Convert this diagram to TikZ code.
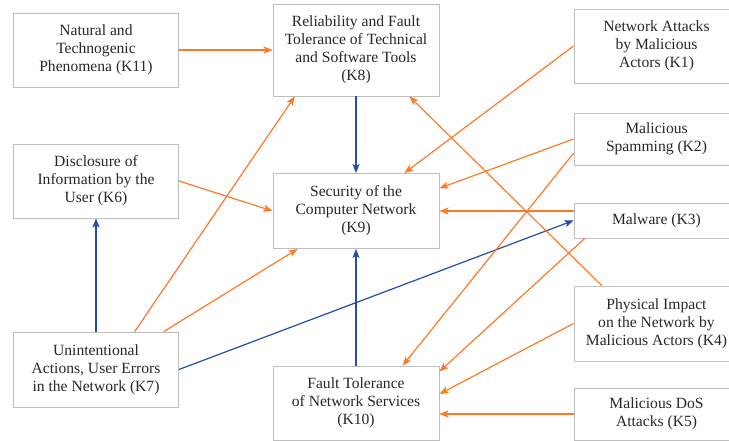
\documentclass[tikz,border=0pt]{standalone}
\usepackage{fontspec}
\setmainfont{Liberation Serif}
\newfontfamily\boxfont{Liberation Serif}
\usetikzlibrary{arrows.meta,calc}

\definecolor{linkorange}{RGB}{252,122,40}
\definecolor{linkblue}{RGB}{38,76,170}
\definecolor{boxgray}{RGB}{190,190,190}
\definecolor{textgray}{RGB}{40,40,40}

\begin{document}
\begin{tikzpicture}[x=1pt,y=1pt,yscale=-1,xscale=1,
	factor/.style={draw=boxgray,line width=0.9pt,fill=white,text=textgray,align=center,
		inner sep=0pt,minimum width=165pt,font=\boxfont\fontsize{15.6}{18}\selectfont},
	orangelink/.style={draw=linkorange,line width=1.2pt,-{Stealth[length=9pt,width=7pt,inset=2pt,fill=linkorange]}},
	bluelink/.style={draw=linkblue,line width=1.2pt,-{Stealth[length=9pt,width=7pt,inset=2pt,fill=linkblue]}}]
		%set diagram frame: 729 wide, 441 high
		\fill[white] (0,0) rectangle (729,441);
		\useasboundingbox (0,0) rectangle (729,441);
		
		%Shape: Rectangles, left column
		\node[factor,minimum height=74pt] (k11) at (96,50) {Natural and\\Technogenic\\Phenomena (K11)};
		\node[factor,minimum height=74pt] (k6) at (96,181) {Disclosure of\\Information by the\\User (K6)};
		\node[factor,minimum height=75pt] (k7) at (96,369.5) {Unintentional\\Actions, User Errors\\in the Network (K7)};
		%Shape: Rectangles, middle column
		\node[factor,minimum width=166pt,minimum height=92pt] (k8) at (356,50) {Reliability and Fault\\Tolerance of Technical\\and Software Tools\\(K8)};
		\node[factor,minimum width=166pt,minimum height=75pt] (k9) at (356,211) {Security of the\\Computer Network\\(K9)};
		\node[factor,minimum width=166pt,minimum height=74pt] (k10) at (356,403) {Fault Tolerance\\of Network Services\\(K10)};
		%Shape: Rectangles, right column (cut by the frame)
		\node[factor,minimum height=74pt] (k1) at (656.5,46) {Network Attacks\\by Malicious\\Actors (K1)};
		\node[factor,minimum height=52pt] (k2) at (656.5,139) {Malicious\\Spamming (K2)};
		\node[factor,minimum height=35pt] (k3) at (656.5,220.5) {Malware (K3)};
		\node[factor,minimum height=75pt] (k4) at (656.5,323.5) {Physical Impact\\on the Network by\\Malicious Actors (K4)};
		\node[factor,minimum height=52pt] (k5) at (656.5,414) {Malicious DoS\\Attacks (K5)};
		
		%Straight Lines: blue links
		\draw[bluelink] (k8.south) -- (k9.north);
		\draw[bluelink] (k10.north) -- (k9.south);
		\draw[bluelink] (k7.north) -- (k6.south);
		\draw[bluelink] (k7.east) -- (k3.west);
		
		%Straight Lines: orange links
		\draw[orangelink] (k11) -- (k8);
		\draw[orangelink] ($(k7.north west)!0.733!(k7.north east)$) -- ($(k8.south west)!0.133!(k8.south east)$);
		\draw[orangelink] ($(k7.north west)!0.909!(k7.north east)$) -- ($(k9.south west)!0.15!(k9.south east)$);
		\draw[orangelink] (k6.east) -- (k9.west);
		\draw[orangelink] (k1.west) -- ($(k9.north west)!0.79!(k9.north east)$);
		\draw[orangelink] (k2.west) -- ($(k9.north east)!0.2!(k9.south east)$);
		\draw[orangelink] (k3.west |- k9.east) -- (k9.east);
		\draw[orangelink] ($(k4.north west)!0.17!(k4.north east)$) -- ($(k8.south west)!0.82!(k8.south east)$);
		\draw[orangelink] ($(k2.north west)!0.77!(k2.south west)$) -- ($(k10.north west)!0.78!(k10.north east)$);
		\draw[orangelink] ($(k3.south west)!0.067!(k3.south east)$) -- ($(k10.north east)!0.08!(k10.south east)$);
		\draw[orangelink] (k4.west) -- ($(k10.north east)!0.38!(k10.south east)$);
		\draw[orangelink] (k5.west) -- (k10.east |- k5.west);
		
\end{tikzpicture}
\end{document}
